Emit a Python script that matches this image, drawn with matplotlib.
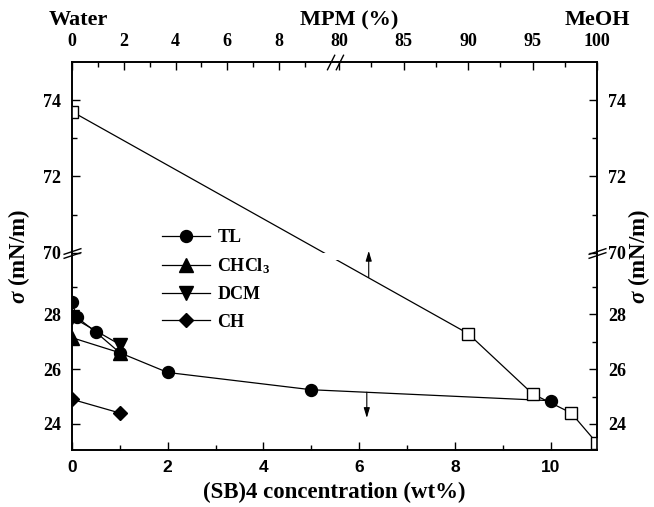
"""
Surface tension vs (SB)4 concentration, with MPM (%) water/MeOH series
on a broken top axis and a broken sigma axis.
"""

import numpy as np
import matplotlib
matplotlib.use("Agg")
import matplotlib.pyplot as plt
from matplotlib.path import Path

# ─────────────────────────────────────────────────────────────────────────────
# Data
# ─────────────────────────────────────────────────────────────────────────────

conc_tl    = [0, 0.1, 0.5, 1, 2, 5, 10]
sig_tl     = [28.45, 27.9, 27.35, 26.6, 25.88, 25.25, 24.85]
conc_chcl3 = [0, 1]
sig_chcl3  = [27.15, 26.6]
conc_dcm   = [0, 1]
sig_dcm    = [27.9, 26.9]
conc_ch    = [0, 1]
sig_ch     = [24.9, 24.4]

mpm_pct    = [0, 90, 95, 98, 100]
sig_mpm    = [73.7, 27.3, 25.1, 24.4, 23.3]

bottom_ticks = [0, 2, 4, 6, 8, 10]
bottom_minor = [1, 3, 5, 7, 9]
top_ticks    = [0, 2, 4, 6, 8, 80, 85, 90, 95, 100]
top_minor    = [1, 3, 5, 7, 9, 82.5, 87.5, 92.5, 97.5]
y_ticks      = [24, 26, 28, 70, 72, 74]
y_minor      = [25, 27, 29, 71, 73]

legend_labels = ["TL", r"CHCl$_\mathbf{3}$", "DCM", "CH"]

# arrows: (x on bottom axis, tail sigma, head sigma)
arrow_up   = (6.2, 29.35, 70.05)
arrow_down = (6.16, 25.16, 24.22)


# ─────────────────────────────────────────────────────────────────────────────
# Broken-axis scales
# ─────────────────────────────────────────────────────────────────────────────

Y_SRC = [0, 30, 70, 100]
Y_DST = [0, 30, 30.25, 30.25 + 30 * 1.393]

def y_fwd(v):
    return np.interp(v, Y_SRC, Y_DST)

def y_inv(v):
    return np.interp(v, Y_DST, Y_SRC)

T_SRC = [0, 10, 80, 100]
T_DST = [0, 0.493, 0.509, 1.0]

def t_fwd(v):
    return np.interp(v, T_SRC, T_DST)

def t_inv(v):
    return np.interp(v, T_DST, T_SRC)


def break_marker(w, h, off, horizontal=True):
    """Two parallel slashes '//' as a marker path."""
    if horizontal:   # crossing a vertical spine
        v = [(-w, -h - off), (w, h - off), (-w, -h + off), (w, h + off)]
    else:            # crossing a horizontal spine
        v = [(-w - off, -h), (w - off, h), (-w + off, -h), (w + off, h)]
    return Path(v, [Path.MOVETO, Path.LINETO, Path.MOVETO, Path.LINETO])


# ─────────────────────────────────────────────────────────────────────────────
# Plot
# ─────────────────────────────────────────────────────────────────────────────

plt.rcParams.update({
    "font.family"       : "Liberation Serif",
    "font.weight"       : "bold",
    "axes.labelweight"  : "bold",
    "mathtext.fontset"  : "custom",
    "mathtext.rm"       : "Liberation Serif:bold",
    "mathtext.bf"       : "Liberation Serif:bold",
    "mathtext.it"       : "Liberation Serif:italic:bold",
    "axes.linewidth"    : 1.2,
})

fig = plt.figure(figsize=(6.54, 5.07), dpi=100)
ax = fig.add_axes([72 / 654, 57 / 507, 525 / 654, 388 / 507])
ax.set_yscale("function", functions=(y_fwd, y_inv))

mk = dict(color="k", lw=0.9)
h_tl,    = ax.plot(conc_tl, sig_tl, marker="o", ms=8.6, label=legend_labels[0], **mk)
h_chcl3, = ax.plot(conc_chcl3, sig_chcl3, marker="^", ms=9.5, label=legend_labels[1], **mk)
h_dcm,   = ax.plot(conc_dcm, sig_dcm, marker="v", ms=9.5, label=legend_labels[2], **mk)
h_ch,    = ax.plot(conc_ch, sig_ch, marker="D", ms=7.5, label=legend_labels[3], **mk)

ax.set_xlim(0, 10.97)
ax.set_xticks(bottom_ticks, labels=[str(t) for t in bottom_ticks],
              fontfamily="Liberation Sans", fontweight="bold", fontsize=12.5)
ax.set_xticks(bottom_minor, minor=True)
ax.set_yticks(y_ticks, labels=[str(t) for t in y_ticks], fontsize=13)
ax.set_yticks(y_minor, minor=True)
ax.tick_params(which="both", direction="in", width=1.0)
ax.tick_params(which="major", length=6)
ax.tick_params(which="minor", length=3.5)
ax.tick_params(axis="y", which="both", left=True, right=True,
               labelleft=True, labelright=True)
ax.tick_params(axis="y", pad=8)
ax.tick_params(axis="x", pad=7)

ax.set_xlabel("(SB)4 concentration (wt%)", fontsize=16.5, labelpad=5)
ax.set_ylabel(r"$\sigma$ (mN/m)", fontsize=16.5)
ax.yaxis.set_label_coords(-0.076, 0.5)
ax.text(1.08, 0.5, r"$\sigma$ (mN/m)", transform=ax.transAxes, rotation=90,
        ha="center", va="center", fontsize=16.5)

# ── top axis: MPM (%) ────────────────────────────────────────────────────────
ax_top = ax.twiny()
ax_top.set_xscale("function", functions=(t_fwd, t_inv))
ax_top.plot(mpm_pct, sig_mpm, marker="s", ms=8.3, mfc="white", mec="k",
            zorder=2, **mk)
ax_top.set_xlim(0, 100)
ax_top.set_xticks(top_ticks, labels=[str(t) for t in top_ticks], fontsize=13)
ax_top.set_xticks(top_minor, minor=True)
ax_top.tick_params(which="both", direction="in", width=1.0, pad=9)
ax_top.tick_params(which="major", length=6)
ax_top.tick_params(which="minor", length=3.5)

for txt, xpos in [("Water", 0.013), ("MPM (%)", 0.528), ("MeOH", 1.0)]:
    ax.text(xpos, 1.108, txt, transform=ax.transAxes, ha="center",
            va="center", fontsize=16)

# gap of the sigma break across the MPM line
ax_top.axhspan(30, 69.9, xmin=0.03, xmax=0.97, color="white", lw=0, zorder=2.2)

# break marks
ax_top.plot([0, 1], [70, 70], transform=ax_top.get_yaxis_transform(),
            ls="none", marker=break_marker(9, 3, 2), ms=13, mew=1.0,
            color="k", clip_on=False, zorder=6)
ax_top.plot([45], [1], transform=ax_top.get_xaxis_transform(),
            ls="none", marker=break_marker(4, 8, 4.5, horizontal=False),
            ms=12, mew=1.0, color="k", clip_on=False, zorder=6)

# arrows pointing to the relevant axis
for x, tail, head in [arrow_up, arrow_down]:
    ax_top.annotate("", xy=(x, head), xytext=(x, tail),
                    xycoords=ax.transData, textcoords=ax.transData,
                    arrowprops=dict(arrowstyle="-|>,head_length=0.6,head_width=0.18",
                                    color="k", lw=0.8, shrinkA=0, shrinkB=0),
                    zorder=4)

ax_top.legend(handles=[h_tl, h_chcl3, h_dcm, h_ch], loc="center left",
              bbox_to_anchor=(162 / 654, 1 - 280 / 507),
              bbox_transform=fig.transFigure, frameon=False, fontsize=13,
              handlelength=2.67, handletextpad=0.4, labelspacing=0.56,
              borderpad=0, borderaxespad=0, numpoints=1)

ax.set_ylim(23.05, 75)

plt.savefig("out.png", dpi=100)
plt.close()
